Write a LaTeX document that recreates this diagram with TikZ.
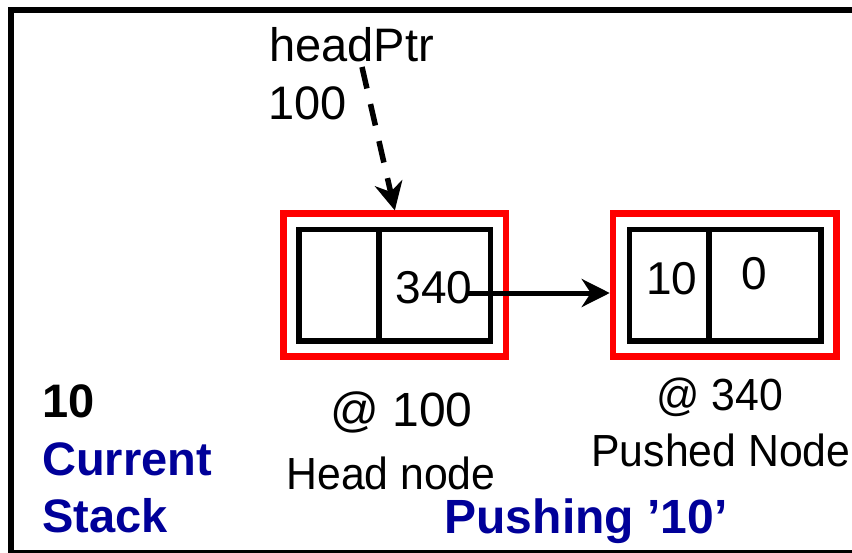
\documentclass[tikz,border=0pt]{standalone}
\usepackage{fontspec}
\setmainfont{Liberation Sans}
\newfontfamily\narrowsans[FakeStretch=0.95]{Liberation Sans}
\usetikzlibrary{arrows.meta,calc}
\definecolor{navyblue}{RGB}{0,0,153}
\definecolor{boxred}{RGB}{255,0,0}
\begin{document}
\begin{tikzpicture}[x=1pt,y=-1pt,
  redbox/.style={draw=boxred,line width=6.5pt,minimum height=142.8pt,inner sep=0pt},
  cellbox/.style={draw=black,line width=5.5pt,minimum height=111.5pt,inner sep=0pt},
  txt/.style={inner sep=0pt,anchor=base,font=\narrowsans\fontsize{45pt}{54pt}\selectfont},
  celltxt/.style={inner sep=0pt,anchor=base,font=\fontsize{46pt}{54pt}\selectfont},
  boldtxt/.style={inner sep=0pt,anchor=base west,font=\bfseries\fontsize{47pt}{54pt}\selectfont},
  tipstyle/.style={-{Stealth[length=28pt,width=28pt,inset=9pt]}}
]
\useasboundingbox (0,0) rectangle (852,552);
% frame
\draw[line width=6pt] (11,10) rectangle (880,553);

% red outer boxes
\node[redbox,minimum width=222.3pt] (hred) at (394.85,285.1) {};
\node[redbox,minimum width=223.5pt] (pred) at (724.75,285.1) {};

% cells
\node[cellbox,minimum width=80pt] (hl) at (339,285.25) {};
\node[cellbox,minimum width=111.5pt] (hr) at (434.75,285.25) {};
\node[cellbox,minimum width=79.3pt] (pl) at (669.35,285.25) {};
\node[cellbox,minimum width=112pt] (pr) at (765,285.25) {};

% cell texts
\node[celltxt] (t340) at (434,303) {340};
\node[celltxt] (t10) at (672,294) {10};
\node[celltxt] (t0) at (754,289) {0};

% headPtr label
\node[inner sep=0pt,anchor=base west,font=\fontsize{47pt}{54pt}\selectfont] (hp) at (269,61) {headPtr};
\node[inner sep=0pt,anchor=base west,font=\fontsize{47pt}{54pt}\selectfont] (hpv) at (268,119) {100};

% address labels
\node[inner sep=0pt,anchor=base,font=\fontsize{48pt}{54pt}\selectfont] (a100) at (401.5,426) {@ 100};
\node[txt] (hn) at (391,489) {Head node};
\node[txt] (a340) at (720,410) {@ 340};
\node[txt] (pn) at (721,466) {Pushed Node};

% left stack label
\node[boldtxt] (s10) at (42,417) {10};
\node[boldtxt,text=navyblue] (scur) at (42,475) {Current};
\node[boldtxt,text=navyblue] (sstk) at (42,532) {Stack};

% title
\node[inner sep=0pt,anchor=base,text=navyblue,font=\bfseries\fontsize{48pt}{54pt}\selectfont] (push) at (586,533) {Pushing ’10’};

% connectors
\coordinate (ptrstart) at (362,67);
\coordinate (nextstart) at (468,293);
\draw[line width=5.5pt,dash pattern=on 22pt off 16pt,tipstyle] (ptrstart) -- (hred.north);
\draw[line width=5pt,tipstyle] (nextstart) -- (nextstart -| pred.west);
\end{tikzpicture}
\end{document}
